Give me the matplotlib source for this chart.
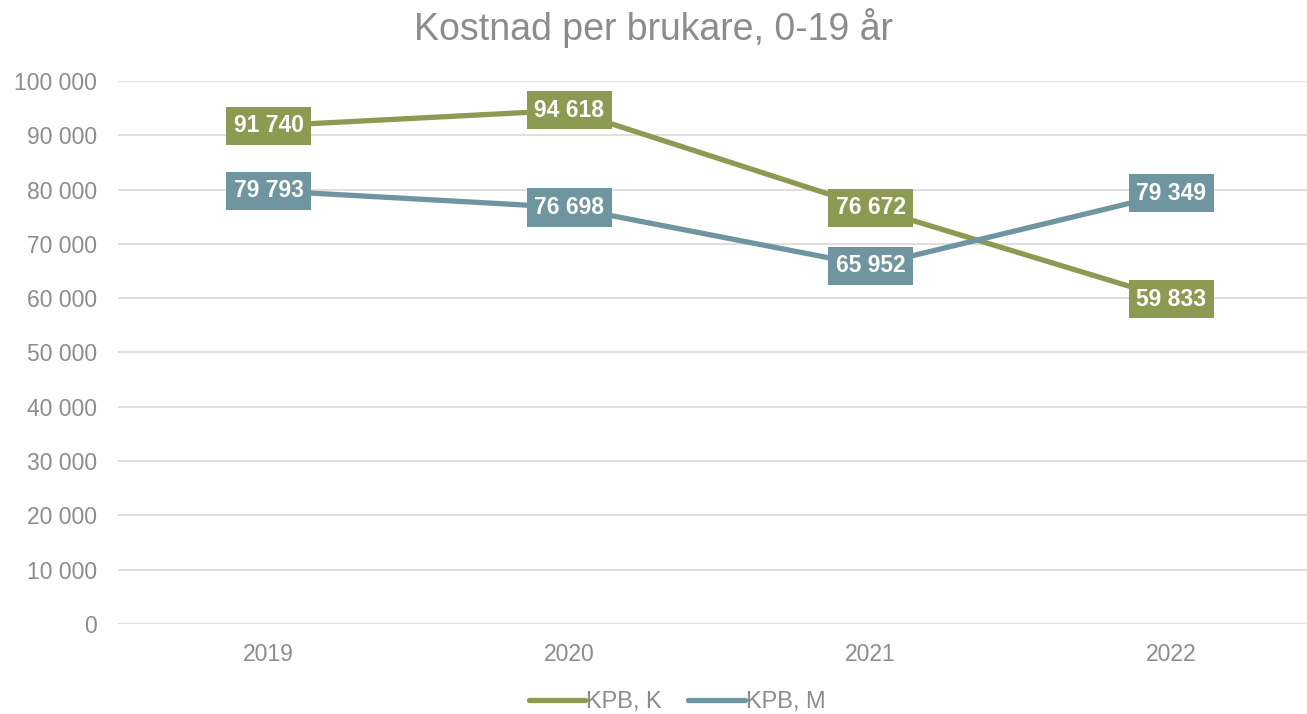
import matplotlib
matplotlib.use("Agg")
import matplotlib.pyplot as plt
from matplotlib.ticker import FuncFormatter

years = ["2019", "2020", "2021", "2022"]
kpb_k = [91740, 94618, 76672, 59833]
kpb_m = [79793, 76698, 65952, 79349]
series_names = ["KPB, K", "KPB, M"]

green = "#8c9a52"
blue = "#6f95a0"
grey = "#8c8c8c"

plt.rcParams['font.family'] = ['Liberation Sans', 'DejaVu Sans']

fig = plt.figure(figsize=(13.07, 7.14), dpi=100)
ax = fig.add_axes([118 / 1307, 1 - 624 / 714, (1307 - 118) / 1307, (624 - 81) / 714])

x = list(range(len(years)))
ax.plot(x, kpb_k, color=green, lw=3.8, solid_capstyle="round", label=series_names[0], zorder=3)
ax.plot(x, kpb_m, color=blue, lw=3.8, solid_capstyle="round", label=series_names[1], zorder=3)

def fmt(v):
    return f"{v:,}".replace(",", " ")

# value boxes on every point
for vals, col in [(kpb_k, green), (kpb_m, blue)]:
    for xi, v in zip(x, vals):
        ax.text(xi, v, fmt(v), ha="center", va="center", color="white",
                fontsize=16.5, fontweight="bold", zorder=5,
                bbox=dict(boxstyle="square,pad=0.33", fc=col, ec="none"))

ax.set_ylim(0, 100000)
ax.set_yticks(range(0, 100001, 10000))
ax.yaxis.set_major_formatter(FuncFormatter(lambda v, p: fmt(int(v))))
ax.set_xlim(-0.5, -0.5 + (1307 - 118) / 301)
ax.set_xticks(x)
ax.set_xticklabels(years)

ax.grid(axis="y", color="#d9d9d9", lw=1.2)
ax.set_axisbelow(True)
for s in ax.spines.values():
    s.set_visible(False)
ax.tick_params(axis="both", length=0, labelsize=16.5, labelcolor=grey)
ax.tick_params(axis="y", pad=15)
ax.tick_params(axis="x", pad=14)

fig.text(0.5, 1 - 28 / 714, "Kostnad per brukare, 0-19 år", ha="center", va="center",
         fontsize=27, color=grey)

fig.legend(loc="center", bbox_to_anchor=(0.518, 1 - 702 / 714), ncol=2, frameon=False,
           fontsize=17, labelcolor=grey, handlelength=2.4, handletextpad=0.05,
           columnspacing=1.1)

fig.savefig("out.png", dpi=100)
